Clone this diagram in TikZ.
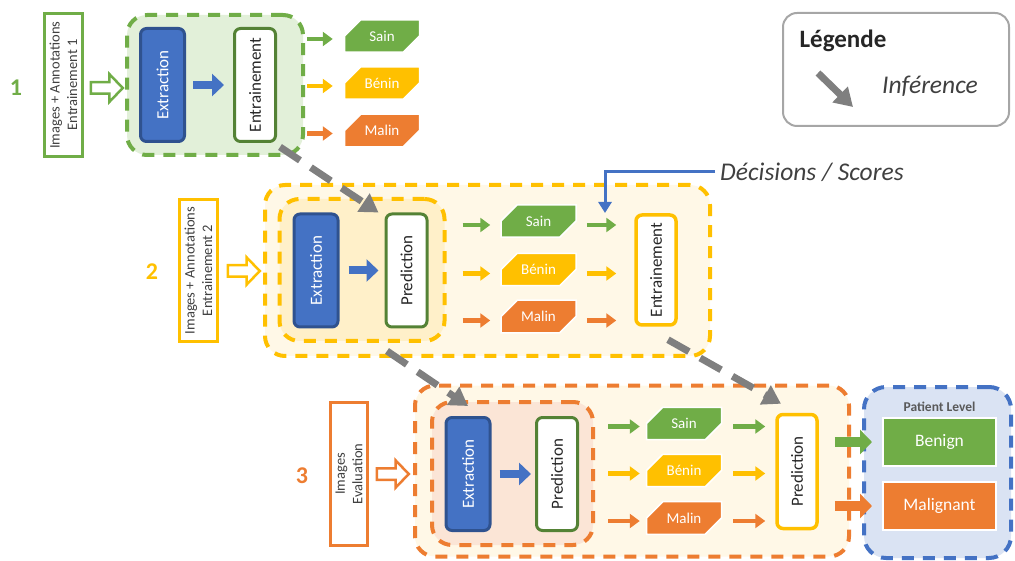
\documentclass[tikz,border=0pt]{standalone}
\usepackage{fontspec}
\setmainfont{Carlito}
\usetikzlibrary{arrows.meta,shapes.misc,shapes.arrows}
\definecolor{cgreen}{HTML}{70AD47}
\definecolor{cdgreen}{HTML}{548235}
\definecolor{cyellow}{HTML}{FFC000}
\definecolor{corange}{HTML}{ED7D31}
\definecolor{cblue}{HTML}{4472C4}
\definecolor{cdblue}{HTML}{2F528F}
\definecolor{cgray}{HTML}{7F7F7F}
\definecolor{fgreen}{HTML}{E2F0D9}
\definecolor{fyout}{HTML}{FFF8E7}
\definecolor{fyin}{HTML}{FFF0C9}
\definecolor{forange}{HTML}{FBE5D6}
\definecolor{fblue}{HTML}{DAE3F3}
\definecolor{ctext}{HTML}{404040}
\definecolor{clegend}{HTML}{A6A6A6}
\tikzset{
  num/.style={font=\bfseries\fontsize{24}{28}\selectfont},
  inbox/.style={draw, fill=white, line width=3pt, inner sep=0pt},
  intext/.style={rotate=90, align=center, text=ctext, font=\fontsize{14.5}{17.5}\selectfont},
  hollow/.style={single arrow, fill=white, line width=2.5pt, inner xsep=0pt, inner ysep=4.5pt,
     minimum height=32pt, single arrow head extend=8pt, single arrow tip angle=92},
  dbox/.style={rounded corners=20pt, line width=4pt, dash pattern=on 12pt off 9pt, inner sep=0pt},
  procbox/.style={rounded corners=6pt, line width=3pt, inner sep=0pt, minimum height=113pt},
  extbox/.style={procbox, fill=cblue, draw=cdblue, minimum width=44pt},
  predbox/.style={procbox, fill=white, draw=cdgreen, minimum width=41pt},
  ybox/.style={procbox, fill=white, draw=cyellow, line width=3.5pt, minimum width=40pt},
  rottext/.style={rotate=90, text=black!85, font=\fontsize{17}{20}\selectfont},
  snip/.style={chamfered rectangle, chamfered rectangle corners={north west,south east},
     chamfered rectangle sep=11pt, minimum width=75pt, minimum height=31pt, inner sep=0pt,
     draw=white, line width=1.5pt, text=white, font=\fontsize{15}{17}\selectfont},
  sarr/.style={line width=4.5pt, -{Triangle[width=14pt,length=10pt]}},
  barr/.style={line width=8pt, cblue, -{Triangle[width=22pt,length=12pt]}},
  bigarr/.style={line width=10pt, -{Triangle[width=24pt,length=12pt]}},
  garr/.style={line width=7pt, cgray, dash pattern=on 24pt off 13pt, -{Triangle[width=21pt,length=18pt]}},
  resbox/.style={draw=white, line width=2pt, minimum width=113pt, minimum height=48pt, text=white,
     font=\fontsize{17.5}{20}\selectfont},
}
\begin{document}
\begin{tikzpicture}[x=1pt,y=-1pt]
\useasboundingbox (0,0) rectangle (1015,561);

% ---------------- Section 1 ----------------
\node[num, text=cgreen] (n1) at (16,88) {1};
\node[inbox, draw=cgreen, minimum width=38pt, minimum height=143pt] (in1) at (63.5,85) {};
\node[intext] (in1t) at (in1) {Images + Annotations\\Entrainement 1};
\node[hollow, draw=cgreen] (h1) at (104,88) {};
\node[dbox, draw=cgreen, fill=fgreen, minimum width=176pt, minimum height=140pt] (g1) at (215,85) {};
\node[extbox] (ext1) at (162.5,85) {};
\node[rottext, text=white] (ext1t) at (ext1) {Extraction};
\node[predbox] (ent1) at (255,85) {};
\node[rottext] (ent1t) at (ent1) {Entrainement};
\draw[barr] ([xshift=7pt]ext1.east) -- ([xshift=-9pt]ent1.west);
\node[snip, fill=cgreen] (s1) at (382,36) {Sain};
\node[snip, fill=cyellow] (b1) at (382,83) {Bénin};
\node[snip, fill=corange] (m1) at (382,130.5) {Malin};
\foreach \t/\c in {s1/cgreen,b1/cyellow,m1/corange}
  \draw[sarr,\c] ([xshift=2pt,yshift=-3pt]g1.east |- \t.west) -- ([xshift=-11pt,yshift=-3pt]\t.west);

% ---------------- Section 2 ----------------
\node[num, text=cyellow] (n2) at (152,272) {2};
\node[inbox, draw=cyellow, minimum width=38pt, minimum height=142pt] (in2) at (198.5,270.5) {};
\node[intext] (in2t) at (in2) {Images + Annotations\\Entrainement 2};
\node[hollow, draw=cyellow] (h2) at (241,271) {};
\node[dbox, draw=cyellow, fill=fyout, minimum width=445pt, minimum height=171pt] (y2o) at (487.5,270.5) {};
\node[dbox, draw=cyellow, fill=fyin, minimum width=165pt, minimum height=142pt] (y2i) at (362,270) {};
\node[extbox] (ext2) at (316,270.5) {};
\node[rottext, text=white] (ext2t) at (ext2) {Extraction};
\node[predbox] (pred2) at (406.5,270.5) {};
\node[rottext] (pred2t) at (pred2) {Prediction};
\draw[barr] ([xshift=9pt]ext2.east) -- ([xshift=-6pt]pred2.west);
\node[snip, fill=cgreen] (s2) at (538.5,221) {Sain};
\node[snip, fill=cyellow] (b2) at (538.5,269.5) {Bénin};
\node[snip, fill=corange] (m2) at (538.5,316.5) {Malin};
\node[ybox, minimum height=110pt] (ent2) at (656,270) {};
\node[rottext] (ent2t) at (ent2) {Entrainement};
\foreach \t/\c in {s2/cgreen,b2/cyellow,m2/corange}{
  \draw[sarr,\c] ([xshift=16pt,yshift=-4pt]y2i.east |- \t.west) -- ([xshift=-10pt,yshift=-4pt]\t.west);
  \draw[sarr,\c] ([xshift=10pt,yshift=-4pt]\t.east) -- ([xshift=-18pt,yshift=-4pt]ent2.west |- \t.east);
}
\node[anchor=west, text=ctext, font=\itshape\fontsize{25.5}{28}\selectfont, inner xsep=5pt] (dec) at (715,172) {Décisions / Scores};
\coordinate (decEnd) at (605,213);
\draw[cblue, line width=3pt, -{Triangle[width=13pt,length=11pt]}] (dec.west) -| (decEnd);

% ---------------- Section 3 ----------------
\node[num, text=corange] (n3) at (302,476) {3};
\node[inbox, draw=corange, minimum width=37pt, minimum height=143pt] (in3) at (349,474) {};
\node[intext] (in3t) at (in3) {Images\\Evaluation};
\node[hollow, draw=corange] (h3) at (390,474) {};
\node[dbox, draw=corange, fill=fyout, minimum width=434pt, minimum height=171pt] (o3o) at (632,471) {};
\node[dbox, draw=corange, fill=forange, minimum width=161pt, minimum height=143pt] (o3i) at (512.5,473.5) {};
\node[extbox] (ext3) at (468,474) {};
\node[rottext, text=white] (ext3t) at (ext3) {Extraction};
\node[predbox] (pred3a) at (557,474) {};
\node[rottext] (pred3at) at (pred3a) {Prediction};
\draw[barr] ([xshift=8pt]ext3.east) -- ([xshift=-4pt]pred3a.west);
\node[snip, fill=cgreen] (s3) at (684,423.5) {Sain};
\node[snip, fill=cyellow] (b3) at (684,470.5) {Bénin};
\node[snip, fill=corange] (m3) at (684,518) {Malin};
\node[ybox, minimum height=114pt] (pred3b) at (797,471.5) {};
\node[rottext] (pred3bt) at (pred3b) {Prediction};
\foreach \t/\c in {s3/cgreen,b3/cyellow,m3/corange}{
  \draw[sarr,\c] ([xshift=13pt,yshift=-3pt]o3i.east |- \t.west) -- ([xshift=-6pt,yshift=-3pt]\t.west);
  \draw[sarr,\c] ([xshift=11pt,yshift=-3pt]\t.east) -- ([xshift=-10pt,yshift=-3pt]pred3b.west |- \t.east);
}
\node[dbox, rounded corners=22pt, draw=cblue, fill=fblue, minimum width=147pt, minimum height=171pt] (pat) at (937.5,472.5) {};
\node[text=black!65, font=\bfseries\fontsize{13.5}{15}\selectfont] (patt) at (939.5,407) {Patient Level};
\node[resbox, fill=cgreen] (benign) at (939.5,442) {Benign};
\node[resbox, fill=corange] (malig) at (939.5,506) {Malignant};
\draw[bigarr, cgreen] ([xshift=16pt]pred3b.east |- benign.west) -- ([xshift=-10pt]benign.west);
\draw[bigarr, corange] ([xshift=16pt]pred3b.east |- malig.west) -- ([xshift=-10pt]malig.west);

% ---------------- Legend ----------------
\node[draw=clegend, line width=2pt, rounded corners=14pt, minimum width=226pt, minimum height=113pt] (leg) at (896,69.5) {};
\node[text=black!85, font=\bfseries\fontsize{25}{28}\selectfont] (legt) at (843,41) {Légende};
\node[text=ctext, font=\itshape\fontsize{25.5}{28}\selectfont] (inf) at (930,86) {Inférence};
\coordinate (la) at (818,73);
\coordinate (lb) at (853,107);
\draw[line width=7pt, cgray, -{Triangle[width=21pt,length=18pt]}] (la) -- (lb);

% ---------------- Inference arrows ----------------
\draw[garr] ([xshift=-25pt,yshift=10pt]g1.south east) -- ([xshift=-6pt]pred2.north west);
\draw[garr] ([xshift=25pt,yshift=-8pt]y2i.south) -- ([yshift=10pt]ext3.north);
\draw[garr] ([xshift=12pt,yshift=-13pt]ent2.south) -- ([xshift=-16pt,yshift=9pt]pred3b.north);
\end{tikzpicture}
\end{document}
